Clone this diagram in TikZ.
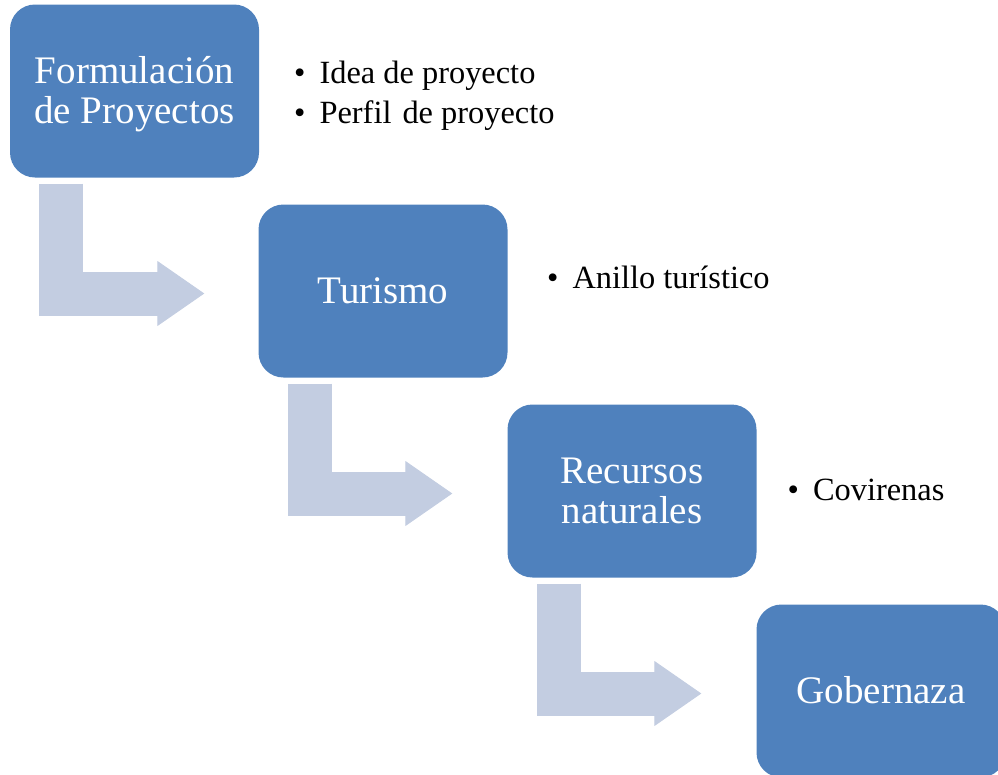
\documentclass[tikz,border=0pt]{standalone}
\usepackage{fontspec}
\setmainfont{Liberation Serif}
\usetikzlibrary{arrows.meta, calc}
\definecolor{stageblue}{HTML}{4F81BD}
\definecolor{flowgrey}{HTML}{C3CDE1}
\newcommand{\stagetext}[1]{\raisebox{-4pt}[\height][\depth]{\begin{tabular}{@{}c@{}}#1\end{tabular}}}
\tikzstyle{stage} = [rectangle, rounded corners=25pt, minimum width=249pt, minimum height=173pt,
text centered, inner sep=0pt, fill=stageblue, text=white, font=\fontsize{39}{40}\selectfont]
\tikzstyle{items} = [anchor=west, align=left, inner sep=0pt, font=\fontsize{32.4}{40}\selectfont]
\tikzstyle{flow} = [draw=flowgrey, line width=44pt, -{Triangle[length=47pt, width=65pt, line width=1pt]}]

\begin{document}
\begin{tikzpicture}[x=1pt, y=-1pt, node distance=200pt]
\useasboundingbox (0,0) rectangle (998,774);

% ------------------------- nodes -------------------------
% ----- node: 0
\node(0)[stage] at (134.5,91) {\stagetext{Formulación\\de Proyectos}};
\node(it0)[items] at (294,96) {•\hspace{14pt}Idea de proyecto\\•\hspace{14pt}Perfil\hspace{11pt}de proyecto};
% ----- node: 1
\node(1)[stage, below of=0, xshift=248.5pt]{\stagetext{Turismo}};
\node(it1)[items] at (547,277) {•\hspace{14pt}Anillo turístico};
% ----- node: 2
\node(2)[stage, below of=1, xshift=249pt]{\stagetext{Recursos\\naturales}};
\node(it2)[items] at (787.5,490) {•\hspace{14pt}Covirenas};
% ----- node: 3
\node(3)[stage, below of=2, xshift=249pt]{\stagetext{Gobernaza}};

% ------------------------- connections -------------------------
\draw[flow]($(0.south west)+(51,6)$) |- ($(1.west)+(-54,2.5)$);
\draw[flow]($(1.south west)+(52,6)$) |- ($(2.west)+(-55,2.5)$);
\draw[flow]($(2.south west)+(52,6)$) |- ($(3.west)+(-55,2.5)$);
\end{tikzpicture}
\end{document}
